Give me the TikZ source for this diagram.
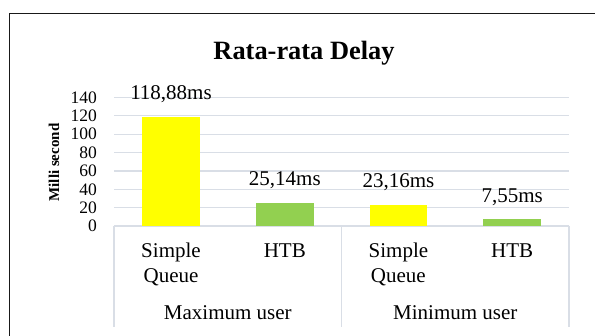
\documentclass[tikz,border=0pt]{standalone}
\usepackage{fontspec}
\setmainfont{Liberation Serif}
\definecolor{gridc}{RGB}{217,222,230}
\definecolor{barY}{RGB}{255,255,0}
\definecolor{barG}{RGB}{146,208,80}
\tikzset{
  gridline/.style={draw=gridc, line width=1.3pt},
  framel/.style={draw=black!90, line width=1.4pt},
  ticklab/.style={anchor=east, inner sep=0pt, font=\fontsize{17.5}{20}\selectfont},
  datalab/.style={anchor=base, inner sep=0pt, font=\fontsize{21}{25}\selectfont},
  catlab/.style={anchor=base, inner sep=0pt, font=\fontsize{21}{25}\selectfont},
  titlelab/.style={anchor=base, inner sep=0pt, font=\fontsize{26.4}{30}\selectfont\bfseries},
  axlab/.style={rotate=90, inner sep=0pt, font=\fontsize{15}{18}\selectfont\bfseries},
}
\begin{document}
\begin{tikzpicture}[x=1pt,y=-1pt]
\useasboundingbox (0,0) rectangle (595,336);
% frame
\draw[framel, line width=1.3pt] (9.5,13.5) -- (595,13.5);
\draw[framel, line width=1.6pt] (9.5,336) -- (9.5,13.5);
% title
\node[titlelab] (title) at (304,60) {Rata-rata Delay};
% gridlines and ticks
\foreach \v [count=\i from 0] in {0,20,40,60,80,100,120,140} {
  \draw[gridline] (114,{226-\i*18.36}) -- (569,{226-\i*18.36});
  \node[ticklab] (t\i) at (97,{226-\i*18.36}) {\v};
}
% dividers
\draw[gridline] (114,226) -- (114,326.7);
\draw[gridline] (341.5,226) -- (341.5,326.7);
\draw[gridline] (569,226) -- (569,326.7);
% axis label
\node[axlab] (ylab) at (54,162.5) {Milli second};
% bars
\fill[barY] (142.3,226) rectangle (199.9,{226-118.88*0.9179});
\fill[barG] (256,226) rectangle (313.6,{226-25.14*0.9179});
\fill[barY] (369.6,226) rectangle (427.2,{226-23.16*0.9179});
\fill[barG] (483.4,226) rectangle (541,{226-7.55*0.9179});
% data labels
\node[datalab] (d1) at (171,{226-118.88*0.9179-17}) {118,88ms};
\node[datalab] (d2) at (284.8,{226-25.14*0.9179-17}) {25,14ms};
\node[datalab] (d3) at (398.4,{226-23.16*0.9179-17}) {23,16ms};
\node[datalab] (d4) at (512.2,{226-7.55*0.9179-17}) {7,55ms};
% category labels
\node[catlab] (c1a) at (171,257.7) {Simple};
\node[catlab] (c1b) at (171,282.7) {Queue};
\node[catlab] (c2) at (284.8,257.7) {HTB};
\node[catlab] (c3a) at (398.4,257.7) {Simple};
\node[catlab] (c3b) at (398.4,282.7) {Queue};
\node[catlab] (c4) at (512.2,257.7) {HTB};
\node[catlab] (g1) at (227.8,320) {Maximum user};
\node[catlab] (g2) at (455.3,320) {Minimum user};
\end{tikzpicture}
\end{document}
